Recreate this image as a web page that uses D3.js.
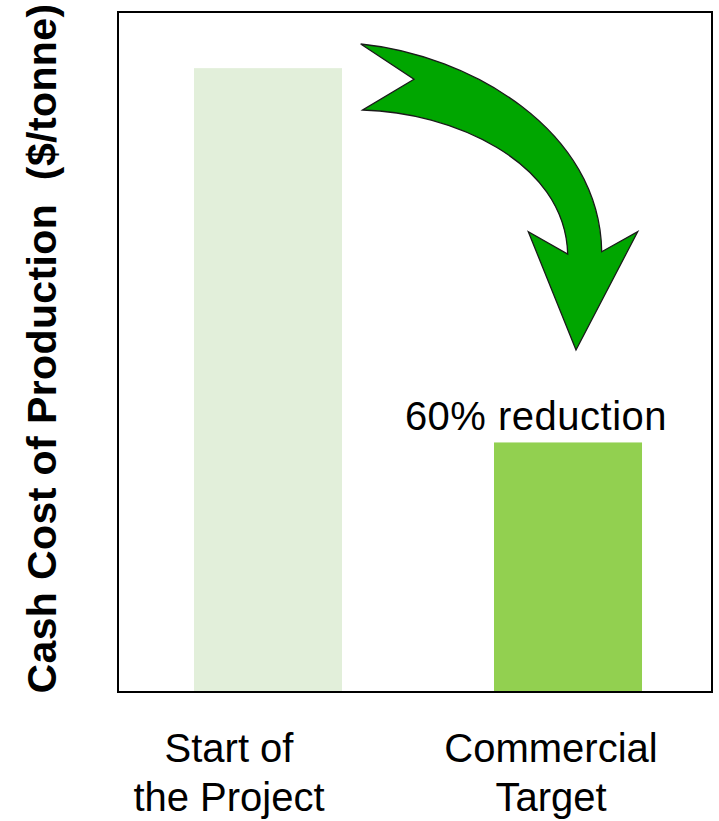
<!DOCTYPE html>
<html>
<head>
<meta charset="utf-8">
<script src="https://cdn.jsdelivr.net/npm/d3@7"></script>
<style>
  html, body { margin: 0; padding: 0; background: #fff; }
  svg { display: block; }
  text { font-family: "Liberation Sans", Arial, sans-serif; fill: #000; white-space: pre; }
</style>
</head>
<body>
<svg id="chart" width="719" height="821"></svg>
<script>
// Cost categories and their relative cash cost (start of project = 100)
const categories = ["Start of\nthe Project", "Commercial\nTarget"];
const costValues = [100, 40];
const barColors = ["#E2EFDA", "#92D050"];
const yTitle = "Cash Cost of Production  ($/tonne)";
const reductionLabel = "60% reduction";

const svg = d3.select("#chart");
const frame = { left: 118, right: 712, top: 12, bottom: 692 };
// horizontal nudge of each category label relative to its bar centre
const labelShift = [-39, -17];

const x = d3.scaleBand()
  .domain(categories)
  .range([frame.left, frame.left + 600])
  .paddingInner(0.5067)
  .paddingOuter(0.2533);

const y = d3.scaleLinear()
  .domain([0, 109])
  .range([frame.bottom, frame.top]);

// Bars
svg.append("g")
  .selectAll("rect")
  .data(categories)
  .join("rect")
  .attr("x", d => x(d))
  .attr("width", x.bandwidth())
  .attr("y", (d, i) => y(costValues[i]))
  .attr("height", (d, i) => y(0) - y(costValues[i]))
  .attr("fill", (d, i) => barColors[i]);

// Plot frame
svg.append("rect")
  .attr("x", frame.left)
  .attr("y", frame.top)
  .attr("width", frame.right - frame.left)
  .attr("height", frame.bottom - frame.top)
  .attr("fill", "none")
  .attr("stroke", "#000")
  .attr("stroke-width", 2);

// Category labels (two lines each), no tick marks or axis line
const xAxis = d3.axisBottom(x).tickSize(0).tickFormat("");
const gx = svg.append("g")
  .attr("transform", `translate(0,${frame.bottom})`)
  .call(xAxis);
gx.select(".domain").remove();
gx.selectAll(".tick").each(function(d, i) {
  const t = d3.select(this).append("text")
    .attr("text-anchor", "middle")
    .style("font-size", "40px")
    .style("fill", "#000");
  d.split("\n").forEach((line, k) => {
    t.append("tspan").attr("x", labelShift[i]).attr("y", 70 + k * 49).text(line);
  });
});

// Y axis title
svg.append("text")
  .attr("transform", "translate(56,348.5) rotate(-90)")
  .attr("text-anchor", "middle")
  .style("font-size", "41px")
  .style("font-weight", "bold")
  .style("letter-spacing", "0.4px")
  .text(yTitle);

// Curved reduction arrow
const arrow = d3.path();
arrow.moveTo(360.7, 44);
arrow.bezierCurveTo(470, 55, 600, 130, 601.7, 251.7);
arrow.lineTo(637.7, 231.7);
arrow.lineTo(576, 350);
arrow.lineTo(528.3, 231.7);
arrow.lineTo(567.7, 254);
arrow.bezierCurveTo(565, 160, 450, 112, 362.7, 110);
arrow.lineTo(414, 79.3);
arrow.closePath();

svg.append("path")
  .attr("d", arrow.toString())
  .attr("fill", "#00A600")
  .attr("stroke", "#1a1a1a")
  .attr("stroke-width", 1.3)
  .attr("stroke-linejoin", "miter");

// Reduction annotation
svg.append("text")
  .attr("x", 536)
  .attr("y", 430)
  .attr("text-anchor", "middle")
  .style("font-size", "40px")
  .style("letter-spacing", "0.5px")
  .text(reductionLabel);
</script>
</body>
</html>
